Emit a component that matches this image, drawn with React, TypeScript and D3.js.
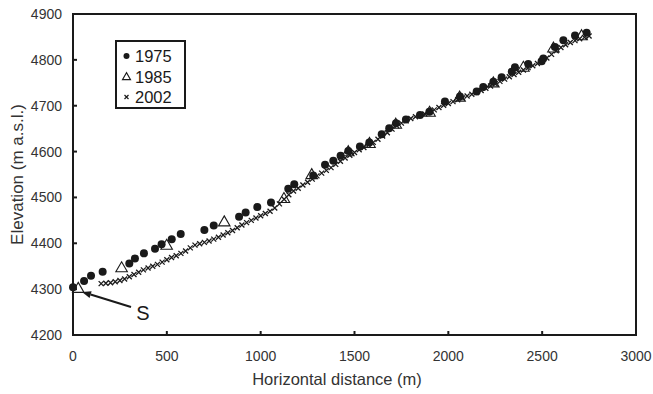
import * as d3 from "d3";

const W = 653;
const H = 394;
const margin = { left: 73, right: 17, top: 14, bottom: 59 };

const xTicks = [0, 500, 1000, 1500, 2000, 2500, 3000];
const yTicks = [4200, 4300, 4400, 4500, 4600, 4700, 4800, 4900];

// 1975 survey (filled circles): [distance, elevation]
const points1975: [number, number][] = [
  [0, 4304], [59, 4318], [96, 4329], [158, 4338], [300, 4356], [330, 4367],
  [378, 4378], [437, 4388], [472, 4398], [526, 4409], [574, 4420], [700, 4429],
  [750, 4439], [885, 4458], [920, 4467], [982, 4479], [1055, 4489], [1147, 4519],
  [1179, 4529], [1280, 4548], [1343, 4571], [1387, 4580], [1426, 4591], [1467, 4601],
  [1529, 4611], [1579, 4620], [1645, 4638], [1685, 4651], [1721, 4662], [1774, 4670],
  [1849, 4680], [1899, 4687], [1982, 4709], [2062, 4720], [2151, 4731], [2186, 4741],
  [2240, 4752], [2284, 4762], [2338, 4774], [2355, 4784], [2426, 4791], [2497, 4797],
  [2506, 4803], [2568, 4828], [2613, 4843], [2675, 4853], [2737, 4859],
];

// 1985 survey (open triangles)
const points1985: [number, number][] = [
  [28, 4302], [259, 4347], [499, 4396], [806, 4447], [1124, 4498], [1272, 4550],
  [1467, 4600], [1580, 4618], [1720, 4660], [1900, 4686], [2060, 4719], [2240, 4750],
  [2400, 4784], [2560, 4826], [2710, 4853],
];

// 2002 survey (crosses)
const points2002: [number, number][] = [
  [150, 4312], [175, 4313], [200, 4314], [225, 4316], [250, 4319], [275, 4322],
  [300, 4327], [325, 4332], [350, 4337], [375, 4342], [400, 4346], [425, 4350],
  [450, 4354], [475, 4359], [500, 4364], [525, 4369], [550, 4373], [575, 4378],
  [600, 4383], [625, 4390], [650, 4396], [675, 4399], [700, 4402], [725, 4405],
  [750, 4409], [775, 4413], [800, 4418], [825, 4423], [850, 4428], [875, 4434],
  [900, 4440], [925, 4445], [950, 4450], [975, 4455], [1000, 4460], [1025, 4465],
  [1050, 4470], [1075, 4477], [1100, 4486], [1125, 4496], [1150, 4506], [1175, 4514],
  [1200, 4520], [1225, 4527], [1250, 4533], [1275, 4540], [1300, 4547], [1325, 4553],
  [1350, 4559], [1375, 4565], [1400, 4572], [1425, 4579], [1450, 4586], [1475, 4592],
  [1500, 4598], [1525, 4604], [1550, 4609], [1575, 4614], [1600, 4620], [1625, 4627],
  [1650, 4634], [1675, 4641], [1700, 4649], [1725, 4656], [1750, 4662], [1775, 4667],
  [1800, 4672], [1825, 4676], [1850, 4679], [1875, 4682], [1900, 4686], [1925, 4691],
  [1950, 4696], [1975, 4701], [2000, 4705], [2025, 4709], [2050, 4713], [2075, 4717],
  [2100, 4721], [2125, 4725], [2150, 4729], [2175, 4733], [2200, 4738], [2225, 4743],
  [2250, 4748], [2275, 4753], [2300, 4758], [2325, 4763], [2350, 4768], [2375, 4773],
  [2400, 4778], [2425, 4783], [2450, 4787], [2475, 4792], [2500, 4797], [2525, 4804],
  [2550, 4812], [2575, 4820], [2600, 4827], [2625, 4833], [2650, 4838], [2675, 4842],
  [2700, 4846], [2725, 4849], [2750, 4852],
];

const legendYears = ["1975", "1985", "2002"];

// start point annotation "S"
const startLabel = { text: "S", tip: [48, 4294], tail: [309, 4261], at: [372, 4248] };

const font = "'Liberation Sans', Arial, sans-serif";
const ink = "#1a1a1a";

function Cross({ x, y, s = 2.5, w = 1.3 }: { x: number; y: number; s?: number; w?: number }) {
  return (
    <path
      d={`M${x - s},${y - s}L${x + s},${y + s}M${x - s},${y + s}L${x + s},${y - s}`}
      stroke={ink}
      strokeWidth={w}
    />
  );
}

function Triangle({ x, y, s = 5 }: { x: number; y: number; s?: number }) {
  const sym = d3.symbol(d3.symbolTriangle, s * s * 2.3)();
  return <path d={sym ?? ""} transform={`translate(${x},${y + 0.8})`} fill="none" stroke={ink} strokeWidth={1.1} />;
}

export default function App() {
  const x = d3.scaleLinear().domain([0, 3000]).range([margin.left, W - margin.right]);
  const y = d3.scaleLinear().domain([4200, 4900]).range([H - margin.bottom, margin.top]);
  const [x0, x1] = x.range();
  const [y0, y1] = y.range();

  const tipX = x(startLabel.tip[0]);
  const tipY = y(startLabel.tip[1]);
  const tailX = x(startLabel.tail[0]);
  const tailY = y(startLabel.tail[1]);
  const ang = Math.atan2(tipY - tailY, tipX - tailX);
  const hl = 9;
  const hw = 3.5;
  const bx = tipX - Math.cos(ang) * hl;
  const by = tipY - Math.sin(ang) * hl;
  const head = `M${tipX},${tipY}L${bx + Math.sin(ang) * hw},${by - Math.cos(ang) * hw}L${bx - Math.sin(ang) * hw},${by + Math.cos(ang) * hw}Z`;

  const legendX = 116;
  const legendY = 41;
  const rowH = 20.5;

  return (
    <div style={{ position: "absolute", left: 0, top: 0, width: W, height: H, background: "#fff" }}>
      <svg width={W} height={H} style={{ display: "block", fontFamily: font }}>
        <rect width={W} height={H} fill="#fff" />

        {/* data */}
        {points2002.map(([d, e], i) => (
          <Cross key={`c${i}`} x={x(d)} y={y(e)} />
        ))}
        {points1985.map(([d, e], i) => (
          <Triangle key={`t${i}`} x={x(d)} y={y(e)} />
        ))}
        {points1975.map(([d, e], i) => (
          <circle key={`p${i}`} cx={x(d)} cy={y(e)} r={4} fill={ink} />
        ))}

        {/* frame */}
        <rect x={x0} y={y1} width={x1 - x0} height={y0 - y1} fill="none" stroke={ink} strokeWidth={2} />

        {/* x ticks */}
        {xTicks.map((t) => (
          <g key={`xt${t}`}>
            <line x1={x(t)} x2={x(t)} y1={y0} y2={y0 - 4} stroke={ink} strokeWidth={2} />
            <text x={x(t)} y={y0 + 26} fontSize={14} fill="#333" textAnchor="middle">
              {t}
            </text>
          </g>
        ))}

        {/* y ticks */}
        {yTicks.map((t) => (
          <g key={`yt${t}`}>
            <line x1={x0} x2={x0 + 4} y1={y(t)} y2={y(t)} stroke={ink} strokeWidth={2} />
            <text x={x0 - 11} y={y(t) + 5} fontSize={14} fill="#333" textAnchor="end">
              {t}
            </text>
          </g>
        ))}

        <text x={337} y={385} fontSize={16.5} fill="#333" textAnchor="middle">
          Horizontal distance (m)
        </text>
        <text
          transform={`translate(23,${(y0 + y1) / 2}) rotate(-90)`}
          fontSize={17}
          fill="#333"
          textAnchor="middle"
        >
          Elevation (m a.s.l.)
        </text>

        {/* annotation */}
        <line x1={tailX} y1={tailY} x2={bx} y2={by} stroke={ink} strokeWidth={2} />
        <path d={head} fill={ink} />
        <text x={x(startLabel.at[0])} y={y(startLabel.at[1]) + 7} fontSize={20} fill={ink} textAnchor="middle">
          {startLabel.text}
        </text>

        {/* legend */}
        <rect x={legendX} y={legendY} width={69} height={67} fill="#fff" stroke={ink} strokeWidth={2} />
        {legendYears.map((yr, i) => {
          const cy = legendY + 15 + i * rowH;
          const mx = legendX + 10.5;
          return (
            <g key={yr}>
              {i === 0 && <circle cx={mx} cy={cy} r={3} fill={ink} />}
              {i === 1 && <Triangle x={mx} y={cy} s={3.5} />}
              {i === 2 && <Cross x={mx} y={cy} s={2} w={1.2} />}
              <text x={legendX + 19} y={cy + 6} fontSize={16.5} fill={ink}>
                {yr}
              </text>
            </g>
          );
        })}
      </svg>
    </div>
  );
}
